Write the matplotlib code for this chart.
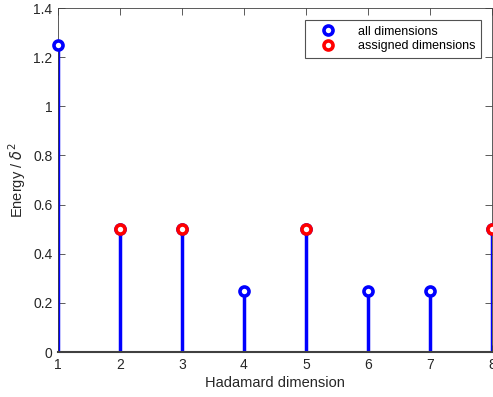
import matplotlib
matplotlib.use("Agg")
import matplotlib.pyplot as plt
import numpy as np

dims = [1, 2, 3, 4, 5, 6, 7, 8]
energy = [1.25, 0.5, 0.5, 0.25, 0.5, 0.25, 0.25, 0.5]
assigned = [2, 3, 5, 8]
assigned_energy = [0.5, 0.5, 0.5, 0.5]
yticks = [0, 0.2, 0.4, 0.6, 0.8, 1, 1.2, 1.4]
ytick_labels = ["0", "0.2", "0.4", "0.6", "0.8", "1", "1.2", "1.4"]

plt.rcParams['font.family'] = ['Liberation Sans', 'DejaVu Sans']
W, H = 493, 397
fig = plt.figure(figsize=(W/100, H/100), dpi=100)
ax = fig.add_axes([58/W, 1-352/H, (492-58)/W, (352-8)/H])

tc = '#262626'
ax.vlines(dims, 0, energy, colors='#0000ff', linewidth=2.5, zorder=2)
ax.plot(dims, energy, 'o', ms=6.5, mfc='white', mec='#0000ff', mew=2.6,
        linestyle='none', label='all dimensions', zorder=3, clip_on=False)
ax.plot(assigned, assigned_energy, 'o', ms=6.5, mfc='white', mec='#ff0000', mew=2.6,
        linestyle='none', label='assigned dimensions', zorder=4, clip_on=False)

ax.set_xlim(1, 8)
ax.set_ylim(0, 1.4)
ax.set_xticks(dims)
ax.set_yticks(yticks)
ax.set_yticklabels(ytick_labels)
ax.tick_params(direction='in', length=5, width=0.6, color='#404040', labelcolor=tc,
               labelsize=10, top=True, right=True, pad=4)
for s in ax.spines.values():
    s.set_color('#404040')
    s.set_linewidth(0.6)
ax.spines['bottom'].set_linewidth(1.5)

ax.set_xlabel('Hadamard dimension', fontsize=10.5, color=tc, labelpad=3)
ax.set_ylabel(r'Energy / $\delta^2$', fontsize=10.5, color=tc, labelpad=4)

leg = ax.legend(loc='upper right', bbox_to_anchor=(481/W, 1-20/H), bbox_transform=fig.transFigure,
                fontsize=9.0, frameon=True, fancybox=False, borderpad=0.45, borderaxespad=0,
                handletextpad=1.0, labelspacing=0.2, handlelength=2.8)
leg.get_frame().set_edgecolor('#262626')
leg.get_frame().set_linewidth(0.8)
for t in leg.get_texts():
    t.set_color('black')

fig.savefig('out.png', dpi=100)
